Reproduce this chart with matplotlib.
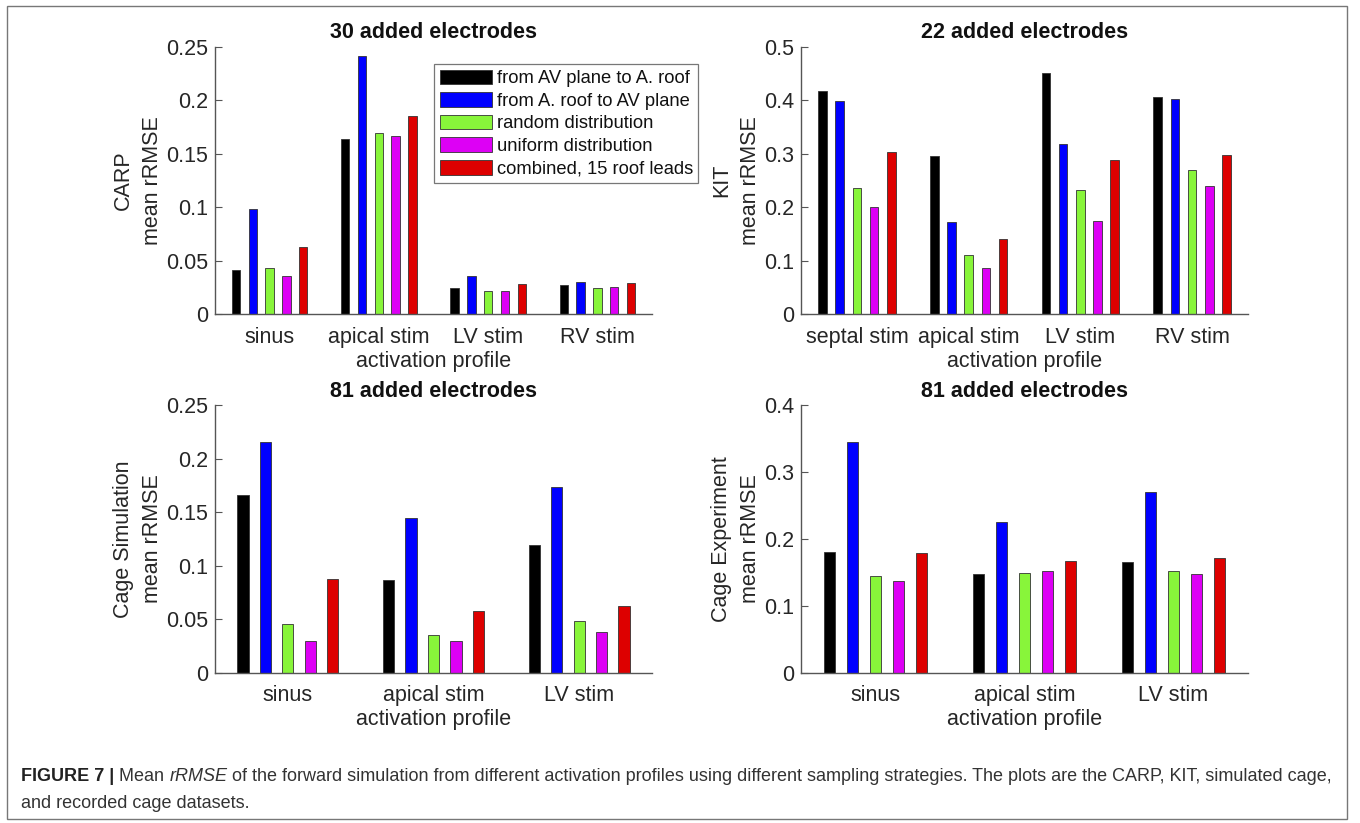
import matplotlib
matplotlib.use("Agg")
import matplotlib.pyplot as plt
import numpy as np
from matplotlib.patches import Rectangle
from matplotlib import font_manager

plt.rcParams['font.family'] = ['Liberation Sans', 'DejaVu Sans']

series_names = ["from AV plane to A. roof", "from A. roof to AV plane",
                "random distribution", "uniform distribution",
                "combined, 15 roof leads"]
colors = ["#000000", "#0000FF", "#88F53A", "#DD00F5", "#DD0000"]

carp_cats = ["sinus", "apical stim", "LV stim", "RV stim"]
carp_vals = [
    [0.041, 0.164, 0.0246, 0.027],   # AV->roof
    [0.098, 0.241, 0.0355, 0.030],   # roof->AV
    [0.043, 0.169, 0.022, 0.0243],   # random
    [0.036, 0.167, 0.022, 0.0252],   # uniform
    [0.063, 0.185, 0.0283, 0.029],   # combined
]

kit_cats = ["septal stim", "apical stim", "LV stim", "RV stim"]
kit_vals = [
    [0.417, 0.2965, 0.450, 0.4056],
    [0.399, 0.172, 0.318, 0.402],
    [0.2355, 0.111, 0.232, 0.269],
    [0.2006, 0.0866, 0.174, 0.240],
    [0.3034, 0.140, 0.288, 0.298],
]

csim_cats = ["sinus", "apical stim", "LV stim"]
csim_vals = [
    [0.166, 0.0866, 0.119],
    [0.2155, 0.1445, 0.173],
    [0.0455, 0.0352, 0.0483],
    [0.0296, 0.0296, 0.0377],
    [0.0878, 0.0576, 0.062],
]

cexp_cats = ["sinus", "apical stim", "LV stim"]
cexp_vals = [
    [0.180, 0.147, 0.165],
    [0.345, 0.225, 0.2706],
    [0.1445, 0.1495, 0.1525],
    [0.1366, 0.152, 0.148],
    [0.1785, 0.167, 0.172],
]

panels = [
    dict(cats=carp_cats, vals=carp_vals, title="30 added electrodes",
         ylabel="CARP\nmean rRMSE", ylim=0.25,
         yticks=[0, 0.05, 0.1, 0.15, 0.2, 0.25],
         ytl=["0", "0.05", "0.1", "0.15", "0.2", "0.25"], pos=(215, 46.7, 652, 314.3)),
    dict(cats=kit_cats, vals=kit_vals, title="22 added electrodes",
         ylabel="KIT\nmean rRMSE", ylim=0.5,
         yticks=[0, 0.1, 0.2, 0.3, 0.4, 0.5],
         ytl=["0", "0.1", "0.2", "0.3", "0.4", "0.5"], pos=(801, 46.7, 1248, 314.3)),
    dict(cats=csim_cats, vals=csim_vals, title="81 added electrodes",
         ylabel="Cage Simulation\nmean rRMSE", ylim=0.25,
         yticks=[0, 0.05, 0.1, 0.15, 0.2, 0.25],
         ytl=["0", "0.05", "0.1", "0.15", "0.2", "0.25"], pos=(215, 405, 652, 672.7)),
    dict(cats=cexp_cats, vals=cexp_vals, title="81 added electrodes",
         ylabel="Cage Experiment\nmean rRMSE", ylim=0.4,
         yticks=[0, 0.1, 0.2, 0.3, 0.4],
         ytl=["0", "0.1", "0.2", "0.3", "0.4"], pos=(801, 405, 1248, 672.7)),
]

W, H = 1360, 823
fig = plt.figure(figsize=(W / 100, H / 100), dpi=100)
fig.patch.set_facecolor("white")

# outer frame
fig.add_artist(Rectangle((7 / W, 1 - 819 / H), (1347 - 7) / W, (819 - 6) / H,
                         transform=fig.transFigure, fill=False,
                         edgecolor="#777777", linewidth=1.0))

tick_color = "#262626"
axis_color = "#555555"
nser = 5
groupwidth = min(0.8, nser / (nser + 1.5))
slot = groupwidth / nser
barw = slot * 0.5

axes_list = []
for p in panels:
    x0, y0, x1, y1 = p["pos"]
    ax = fig.add_axes([x0 / W, 1 - y1 / H, (x1 - x0) / W, (y1 - y0) / H])
    ncat = len(p["cats"])
    x = np.arange(1, ncat + 1)
    for i in range(nser):
        offs = -groupwidth / 2 + slot / 2 + i * slot
        ax.bar(x + offs, p["vals"][i], width=barw, color=colors[i],
               edgecolor="#333333", linewidth=0.6, label=series_names[i], zorder=2)
    ax.set_xlim(0.5, ncat + 0.5)
    ax.set_ylim(0, p["ylim"])
    ax.set_yticks(p["yticks"])
    ax.set_yticklabels(p["ytl"])
    ax.set_xticks(x)
    ax.set_xticklabels(p["cats"])
    for s in ["top", "right"]:
        ax.spines[s].set_visible(False)
    for s in ["left", "bottom"]:
        ax.spines[s].set_color(axis_color)
        ax.spines[s].set_linewidth(1.0)
        ax.spines[s].set_zorder(3)
    ax.tick_params(axis="both", direction="in", length=5, width=0.8,
                   colors=axis_color, labelcolor=tick_color, labelsize=15.5)
    ax.tick_params(axis="x", pad=9)
    ax.tick_params(axis="y", pad=5)
    ax.set_title(p["title"], fontsize=15.5, fontweight="bold", pad=6, color="#111111")
    ax.set_ylabel(p["ylabel"], fontsize=15.5, color=tick_color, linespacing=1.5, labelpad=2)
    ax.set_xlabel("activation profile", fontsize=15.5, color=tick_color, labelpad=2)
    ax.set_facecolor("white")
    axes_list.append(ax)

ax0 = axes_list[0]
leg = ax0.legend(loc="upper left", bbox_to_anchor=((434 - 215) / 437, (314.3 - 64) / 267.6),
                 fontsize=13.2, frameon=True, fancybox=False, handlelength=2.85,
                 handleheight=0.85, handletextpad=0.27, labelspacing=0.27,
                 borderpad=0.3, borderaxespad=0.0)
leg.get_frame().set_edgecolor("#555555")
leg.get_frame().set_linewidth(0.9)
for t in leg.get_texts():
    t.set_color("#111111")
for h in leg.legend_handles:
    h.set_edgecolor("#333333")

# caption with mixed styles
fig.canvas.draw()
renderer = fig.canvas.get_renderer()
cap_color = "#333333"

cap_family = ['Liberation Sans', 'DejaVu Sans']
try:
    font_manager.findfont(font_manager.FontProperties(family='Liberation Sans Narrow'),
                          fallback_to_default=False)
    cap_family = ['Liberation Sans Narrow', 'Liberation Sans', 'DejaVu Sans']
except Exception:
    pass

line1 = [("FIGURE 7 | ", dict(fontweight="bold", color="#222222")),
         ("Mean ", {}),
         ("rRMSE", dict(style="italic")),
         (" of the forward simulation from different activation profiles using different sampling strategies. The plots are the CARP, KIT, simulated cage,", {})]
line2 = [("and recorded cage datasets.", {})]

def put(parts, x_px, y_px, fs):
    x = x_px
    made = []
    for txt, kw in parts:
        style = dict(fontsize=fs, va="baseline", ha="left", color=cap_color,
                     family=cap_family)
        style.update(kw)
        t = fig.text(x / W, 1 - y_px / H, txt, **style)
        bb = t.get_window_extent(renderer=renderer)
        x = bb.x1
        made.append(t)
    return made, x

# fit caption width to reference
target_right = 1330
fs = 13.0
made, xr = put(line1, 21, 781, fs)
for t in made:
    t.remove()
fs = fs * (target_right - 21) / (xr - 21)
fs = min(fs, 14.5)
put(line1, 21, 781, fs)
put(line2, 21, 808, fs)

fig.savefig("out.png", dpi=100, facecolor="white")
